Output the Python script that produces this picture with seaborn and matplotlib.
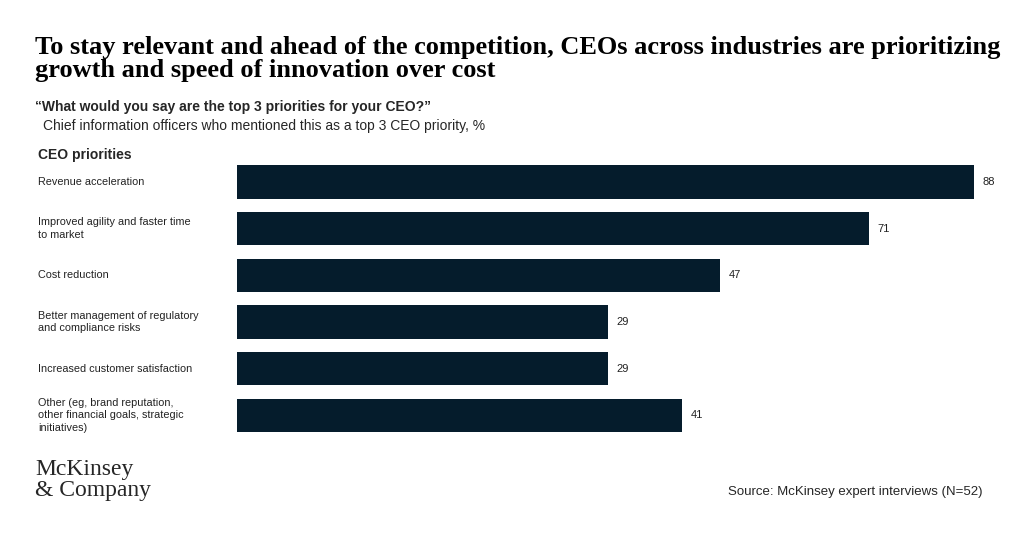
import matplotlib
matplotlib.use("Agg")
import matplotlib.pyplot as plt
import matplotlib.transforms as mtransforms
import seaborn as sns
import pandas as pd

categories = ["Revenue acceleration",
              "Improved agility and faster time\nto market",
              "Cost reduction",
              "Better management of regulatory\nand compliance risks",
              "Increased customer satisfaction",
              "Other (eg, brand reputation,\nother financial goals, strategic\ninitiatives)"]
values = [88, 71, 47, 29, 29, 41]

sns.set_theme(style="white")
plt.rcParams['font.family'] = ['Liberation Sans', 'DejaVu Sans']
W, H = 1024, 535
fig = plt.figure(figsize=(W/100, H/100), dpi=100)
top, bot = 158.7, 438.7
ax = fig.add_axes([237/W, 1-bot/H, (974-237)/W, (bot-top)/H])
df = pd.DataFrame({"cat": categories, "val": values})
sns.barplot(data=df, x="val", y="cat", color="#051C2C", saturation=1, width=0.71, ax=ax, linewidth=0)
xmin = -30.8
for p in ax.patches:
    p.set_width(p.get_width() - xmin)
    p.set_x(xmin)
ax.set_xlim(xmin, 88)
ax.set_ylim(5.5, -0.5)
ax.axis("off")
for i, v in enumerate(values):
    ax.text(v + 1.4, i, str(v), va="center", ha="left", fontsize=8, color="#222222")
trans = mtransforms.blended_transform_factory(fig.transFigure, ax.transData)
for i, c in enumerate(categories):
    fig.text(38/W, i, c, transform=trans, va="center", ha="left", fontsize=7.8, color="#222222", linespacing=1.35)

fig.text(35/W, 1-59/H, "To stay relevant and ahead of the competition, CEOs across industries are prioritizing\ngrowth and speed of innovation over cost",
         fontsize=19, fontweight="bold", family=["Liberation Serif", "DejaVu Serif"], va="center", ha="left", color="#000000", linespacing=1.05)
fig.text(35/W, 1-107/H, "\u201cWhat would you say are the top 3 priorities for your CEO?\u201d", fontsize=10, fontweight="bold", va="center")
fig.text(43/W, 1-126/H, "Chief information officers who mentioned this as a top 3 CEO priority, %", fontsize=10, va="center")
fig.text(38/W, 1-155/H, "CEO priorities", fontsize=10, fontweight="bold", va="center")
fig.text(35/W, 1-480/H, "McKinsey\n& Company", fontsize=17, family=["Liberation Serif", "DejaVu Serif"], va="center", linespacing=0.95)
fig.text(982/W, 1-492/H, "Source: McKinsey expert interviews (N=52)", fontsize=9.5, ha="right", va="center")
fig.savefig("out.png", dpi=100)
